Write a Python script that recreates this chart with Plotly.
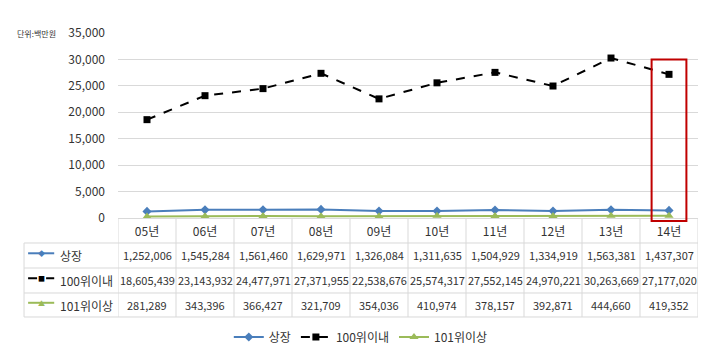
import plotly.graph_objects as go

years = ["05년", "06년", "07년", "08년", "09년", "10년", "11년", "12년", "13년", "14년"]
series_names = ["상장", "100위이내", "101위이상"]
listed = [1252006, 1545284, 1561460, 1629971, 1326084, 1311635, 1504929, 1334919, 1563381, 1437307]
top100 = [18605439, 23143932, 24477971, 27371955, 22538676, 25574317, 27552145, 24970221, 30263669, 27177020]
over101 = [281289, 343396, 366427, 321709, 354036, 410974, 378157, 392871, 444660, 419352]
y_ticks = [0, 5000, 10000, 15000, 20000, 25000, 30000, 35000]
unit_label = "단위:백만원"
highlight_year = "14년"
highlight_top = 30000

all_series = [listed, top100, over101]
colors = ["#4a7ebb", "#000000", "#9bbb59"]
dashes = ["solid", "dash", "solid"]
symbols = ["diamond", "square", "triangle-up"]
glyphs = ["◆", "■", "▲"]
msizes = [7, 7, 8]

FONT = "Noto Sans CJK KR"
fig = go.Figure()
for name, vals, c, d, s, ms in zip(series_names, all_series, colors, dashes, symbols, msizes):
    fig.add_trace(go.Scatter(
        x=years, y=[v / 1000 for v in vals], name=name, mode="lines+markers",
        line=dict(color=c, width=2, dash=d), marker=dict(symbol=s, size=ms, color=c),
        cliponaxis=False,
    ))

grid = "#d9d9d9"
# table geometry (paper y)
row_lines = [0, -0.1351, -0.2703, -0.4054, -0.5351]
row_centers = [-0.2027, -0.3378, -0.4703]
left_edge = -0.162

shapes = []
n = len(years)
for k in range(n + 1):
    shapes.append(dict(type="line", xref="x", yref="paper", x0=k - 0.5, x1=k - 0.5,
                       y0=0, y1=row_lines[-1], line=dict(color=grid, width=1)))
for yl in row_lines[1:]:
    shapes.append(dict(type="line", xref="paper", yref="paper", x0=left_edge, x1=1,
                       y0=yl, y1=yl, line=dict(color=grid, width=1)))
shapes.append(dict(type="line", xref="paper", yref="paper", x0=left_edge, x1=left_edge,
                   y0=row_lines[1], y1=row_lines[-1], line=dict(color=grid, width=1)))

annotations = []
for r, (name, vals, c, d, g) in enumerate(zip(series_names, all_series, colors, dashes, glyphs)):
    yc = row_centers[r]
    shapes.append(dict(type="line", xref="paper", yref="paper", x0=-0.155, x1=-0.110,
                       y0=yc + 0.012, y1=yc + 0.012, line=dict(color=c, width=2, dash=d)))
    annotations.append(dict(xref="paper", yref="paper", x=-0.1325, y=yc + 0.012, text=g,
                            xanchor="center", yanchor="middle",
                            showarrow=False, font=dict(size=7, color=c, family=FONT)))
    annotations.append(dict(xref="paper", yref="paper", x=-0.104, y=yc, xanchor="left", yanchor="middle",
                            text=name, showarrow=False, font=dict(size=12, color="#333333", family=FONT)))
    for i, v in enumerate(vals):
        annotations.append(dict(xref="x", yref="paper", x=years[i], y=yc, text=f"{v:,}",
                                xanchor="center", yanchor="middle",
                                showarrow=False, font=dict(size=11, color="#333333", family=FONT)))

annotations.append(dict(xref="paper", yref="paper", x=-0.14, y=1.0, text=unit_label, showarrow=False,
                        xanchor="center", yanchor="middle",
                        font=dict(size=8, color="#333333", family=FONT)))

hi = years.index(highlight_year)
y_max = y_ticks[-1]
shapes.append(dict(type="rect", xref="x", yref="paper", x0=hi - 0.3, x1=hi + 0.3,
                   y0=-0.016, y1=highlight_top / y_max,
                   line=dict(color="#c00000", width=2)))

fig.update_layout(
    width=720, height=360,
    margin=dict(l=110, r=30, t=25, b=150),
    paper_bgcolor="white", plot_bgcolor="white",
    font=dict(family=FONT, size=12, color="#333333"),
    showlegend=True,
    legend=dict(orientation="h", xref="container", yref="container", x=0.49, xanchor="center",
                y=0.086, yanchor="middle", font=dict(size=12, family=FONT), itemwidth=30),
    xaxis=dict(type="category", range=[-0.5, n - 0.5], showgrid=False, showline=True, linecolor=grid,
               ticks="outside", ticklen=3, tickcolor="rgba(0,0,0,0)", tickfont=dict(size=12)),
    yaxis=dict(range=[0, y_max], tickvals=y_ticks, tickformat=",", showgrid=True, gridcolor=grid,
               zeroline=False, showline=False, ticklabelstandoff=12, tickfont=dict(size=12)),
    shapes=shapes, annotations=annotations,
)
fig.write_html("out.html")
